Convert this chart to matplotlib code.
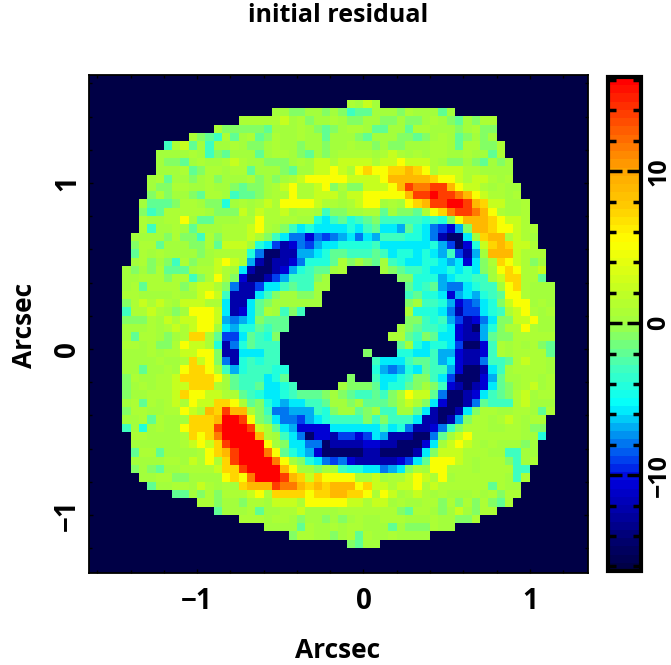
import numpy as np
import matplotlib
matplotlib.use("Agg")
import matplotlib.pyplot as plt
from matplotlib.colors import LinearSegmentedColormap, Normalize

# one letter per pixel, '.' is the masked background
level_names = list(".ABCDEFGHIJKLMNOPQRST")
level_values = [-16.3, -14.5, -12.5, -10.5, -9.0, -7.8, -6.6, -5.5, -4.0, -2.8, -1.7,
                -0.7, 0.0, 0.8, 2.2, 5.0, 7.0, 9.0, 11.5, 13.5, 16.2]

# rows from the top of the map, 60 columns in blocks of 10
residual_rows = [
    ".......... .......... .......... .......... .......... ..........",
    ".......... .......... .......... .......... .......... ..........",
    ".......... .......... .......... .......... .......... ..........",
    ".......... .......... .......... .MLNL..... .......... ..........",
    ".......... .......... ..LLKKLLKL KIJJLLLKML LLJL...... ..........",
    ".......... ........MM MMMNLMKLLM LKKLLKKLKK LMLKJLKMM. ..........",
    ".......... .....MKKKK KJLLLMLKJK LMMLJJLLJM MLLLKLMKK. ..........",
    ".......... ..MKJIMJLM JKMLLMLLJL LLKJLLLKKJ KLMLJKLKL. ..........",
    ".........I MNJLILLMLK KLMLLKLLKL LMLLKLKKLL LMMLJMMKKM ..........",
    "........LL LLMLIKJLLL JLMMLKJLKL MMMMLMNMLM LMMLLMLLJM ..........",
    "........LK KJLMLLMNML LKKKLMLNNM NNNNMNNONN NMLKKLKJLK L.........",
    "........LL LMJKMMLMMJ LLLKJLLNNO NMOPOOPPQP OMNNNMMLLL L.........",
    ".......LMJ LLKLMKLLLM KLKLMNOOOO ONNNNOQQQQ QPOONMNNML M.........",
    ".......LKK MMLLMLLKJK KLMNOMMNOK MKKNNNOQSR RSSQONNMLM LL........",
    ".......KMK LLKJMMLIJJ KLMMOMMNNN LNNOOOOOQS STSSRQONMM LM........",
    "......LJJJ KMMLKKHLML MNMOOOONMM LMNOOLMLOP QSSTTSQPNN LLM.......",
    "......KIJM MMMMLKKKNL NMMNLMMLIK KLLMMJLKKJ MOPRSSRQOM LLM.......",
    "......MLLM MOLJJLLLMM OMMMMLLHGI JHIJKIIIII HIHKOQQQPO NNM.......",
    "......MILL MLJLLLMMMN OMLKIGHGGG GHGIJGGFJH GEDCFKQQPO ONMM......",
    ".....LLLLK MKKIMKMMMN MKIGEECEDE FGEGFIIIHH GEBAAGLPQQ MNML......",
    ".....KMMJL LLKKMJNNNL HGDBCEDFGG HHHHIGGGGG GHFDACHNPQ PNNM......",
    ".....JMLML LLLKLMMMMH EAABBFFGHJ JIIIJIGHHG HGFIDBFLQQ QNMMM.....",
    ".....LMKLK IMKLLNONMF BABBCEHHHJ MKLKJLIHGG HHGFGCGKMP ONMKL.....",
    "....LKLKMJ JJLMMNMLGB AABCFHIJJL M....LKJII HGGHGHGKLO POMMN.....",
    "....LLMMMK MMIKMOMKCA ABDFIIIKL. .......KKH HHFGHHIILN PPMMJ.....",
    "....LMJMMM MKMNNMKEBB DGGIJIILL. ........JH IJFEEGHIIL OPMLLL....",
    "....MMLLLL MLLNONIBBB GIKLLKKL.. ........IJ HHGCFGFHIJ OOMLLL....",
    "....KMNMNM LNNNMMGBBG JKLLLLLL.. ........KL IIHFCDEGHK NOOLML....",
    "....IMMNML KLOOONGBCG JMLIKI.... ........MH HHGEBDDGHI MNOMLM....",
    "....KKKMLN MNNOONFEFG KJJJ...... ........KK IHIFDBCEGK KNNOLL....",
    "....LLLMLM NMNOOLGFHH JIJJ...... .......LKJ IIHGCBAFHK MMOMLL....",
    "....LJMMLK LMPPMJDDGJ IHK....... ......MMJI KJGGCBBFJK KMMMMM....",
    "....MMLMKK MONNMHBEHJ III....... .......JLH GHHGDAACIM LMLMKJ....",
    "....LLLMLM MNNOOKBBGG GII....... ...K...HHG GIFFCBBCIM LMMMMJ....",
    "....LLLLML LMPNOKEBHI HII....... ....IGGGIJ JIFGCBBEII JMNMML....",
    "....LLJLLM LOPPOMIFHI IIHH...... ....HFEFHG JIIFCAABGI LMMMML....",
    "....KMLLMM NPPPPOLJII IGHJ...... .K..IGGHIK KIGDAAACFJ LLMMLM....",
    "....KLMLMM NNPPPMLJII JGGHI..... LKKKJGHHJK LKICBABCGJ KLMNLM....",
    "....KLLMMM NPOONNMMJI HGGHIJJJKL KJIIJIKMON NJEAABCGIJ KMNLMM....",
    "....LMJMLM NMONNPPOMJ KHGFGGIIJL LKLJJJKLNM KGCAABEJII IMNLLL....",
    "....KMMLLM MONMQPSQQM KIEEFFFIHK LLJKLIILLJ GBAABGKMML LMMLJM....",
    "....LLMJML LLPPPQTTSO KJGEEDFGHI IIIKIKIIIG BBABFKMMLM NMLMM.....",
    "....ILHLML LOPPPSTTTS NMJGFCCCCG GGGGGIGHEB BCEIKMMMLL MMLKK.....",
    ".....MMLLL LMPOPRTTTT QMLIGEACCB DDCDGFBBBA AEJLNOMMMM MMLLH.....",
    ".....LLLLL LMNONPSTTT TOLKGGEEAB BBBCCBBAAA CGLNONMLML LLKL......",
    ".....JMMJL LLLMOPQSTT TROJHGFCAA AAABBAAAAB GKNNNMMMLL IILL......",
    ".....LLLLM MLNMOMPSTT TTROLKHGED ECBBBBBCDG JOOONMLMMM KILM......",
    ".....KLKJL LMMMMNPPST TTTQOLLKLL IHHGGEFGKM LOOMMMLMMM MII.......",
    "......LLMM KKLLLLOPOR TTTSQPNPOO OOMMNLMMNO NMOLMMMMMM LIM.......",
    ".......JLL MMLNMLMLPQ QQSRRQPQPQ QQOPNNMNNO MNMMMMMMJM LL........",
    ".......... JJLKMKMMMN OMPPPPOPPQ QPPOMONLMN MLMLLLMLMK MM........",
    ".......... ...MMKLLKM MLNNNMOOOO ONNMNNLMLL MMKMKMKMKJ M.........",
    ".......... .....JLLLM JLLMMNLLLL MMMMMMMKJM MLKLNLKMM. ..........",
    ".......... ........MM MLMMLKLLKL KLMLLMMMLL LMLLKKM... ..........",
    ".......... .......... .LLLLJMLLM LMMLLLJLKK KMLL...... ..........",
    ".......... .......... ....KMMLLK LMJMLLMLLL L......... ..........",
    ".......... .......... .......... .KJLL..... .......... ..........",
    ".......... .......... .......... .......... .......... ..........",
    ".......... .......... .......... .......... .......... ..........",
    ".......... .......... .......... .......... .......... ..........",
]

x_ticks = [-1, 0, 1]
y_ticks = [-1, 0, 1]
x_range = [-1.65, 1.35]
y_range = [-1.35, 1.65]
bar_ticks = [-10, 0, 10]
bar_minor = [-16, -14, -12, -8, -6, -4, -2, 2, 4, 6, 8, 12, 14, 16]
title_text = "initial residual"
axis_label = "Arcsec"

# colours
bar_values = [-16.3, -14.5, -12.5, -10.5, -9.0, -7.8, -6.6, -5.5, -3.0, 0.0, 2.5, 5.5, 8.0, 10.0, 13.0, 16.2]
bar_colors = ["#000046", "#00006e", "#0000aa", "#0000dc", "#0046f0", "#0082f0", "#00bef5", "#00ffff",
              "#40ffbe", "#a0ff40", "#c8ff1e", "#ffff00", "#ffc800", "#ffaa00", "#ff5a00", "#ff0000"]

lookup = dict(zip(level_names, level_values))
grid = []
for row in residual_rows:
    row = row.replace(" ", "")
    grid.append([lookup[c] for c in row])
grid = np.array(grid)

vmin, vmax = bar_values[0], bar_values[-1]
stops = [(v - vmin) / (vmax - vmin) for v in bar_values]
cmap = LinearSegmentedColormap.from_list("residual", list(zip(stops, bar_colors)), N=60)
norm = Normalize(vmin, vmax)

plt.rcParams["font.family"] = ["Open Sans", "DejaVu Sans"]
plt.rcParams["font.weight"] = "bold"

W, H = 671, 665
fig = plt.figure(figsize=(W / 100, H / 100), dpi=100)
ax = fig.add_axes([89 / W, 1 - 573 / H, (588 - 89) / W, (573 - 75) / H])
cax = fig.add_axes([608 / W, 1 - 571 / H, (641 - 608) / W, (571 - 77) / H])

im = ax.imshow(grid, cmap=cmap, norm=norm, interpolation="nearest", aspect="auto",
               extent=[x_range[0], x_range[1], y_range[0], y_range[1]])
ax.set_xticks(x_ticks)
ax.set_yticks(y_ticks)
ax.set_xticklabels(["\u22121", "0", "1"], fontsize=20)
ax.set_yticklabels(["\u22121", "0", "1"], fontsize=20, rotation=90, va="center")
ax.set_xticks(np.arange(-1.6, 1.4, 0.2), minor=True)
ax.set_yticks(np.arange(-1.2, 1.7, 0.2), minor=True)
ax.tick_params(which="major", direction="in", length=3, width=1, top=True, right=True, pad=10)
ax.tick_params(which="minor", direction="in", length=2, width=1, top=True, right=True)
ax.tick_params(axis="y", pad=5)
for s in ax.spines.values():
    s.set_linewidth(1.3)

cb = fig.colorbar(im, cax=cax)
cb.set_ticks(bar_ticks)
cb.set_ticklabels(["\u221210", "0", "10"])
cb.ax.set_yticks(bar_minor, minor=True)
cb.outline.set_linewidth(3)
cax.tick_params(which="major", direction="in", length=10, width=2.5, left=True, right=True,
                labelsize=18, pad=4)
cax.tick_params(which="minor", direction="in", length=6, width=2.5, left=True, right=True)
for lab in cax.get_yticklabels():
    lab.set_rotation(90)
    lab.set_va("center")

fig.text(338 / W, 1 - 15 / H, title_text, ha="center", va="center", fontsize=18)
fig.text(338 / W, 1 - 650 / H, axis_label, ha="center", va="center", fontsize=19)
fig.text(25 / W, 1 - 325 / H, axis_label, ha="center", va="center", fontsize=19, rotation=90)

fig.savefig("out.png", dpi=100)
